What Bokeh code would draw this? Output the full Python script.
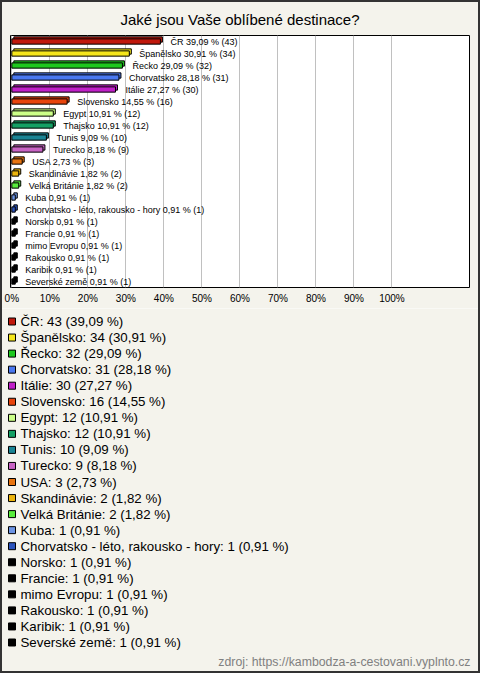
from bokeh.plotting import figure
from bokeh.layouts import column
from bokeh.models import Range1d, FixedTicker, ColumnDataSource, PrintfTickFormatter, InlineStyleSheet
from bokeh.core.properties import value
from bokeh.embed import file_html
from bokeh.resources import INLINE

# ---- data ----
categories = ["ČR", "Španělsko", "Řecko", "Chorvatsko", "Itálie", "Slovensko",
              "Egypt", "Thajsko", "Tunis", "Turecko", "USA", "Skandinávie",
              "Velká Británie", "Kuba", "Chorvatsko - léto, rakousko - hory",
              "Norsko", "Francie", "mimo Evropu", "Rakousko", "Karibik",
              "Severské země"]
counts = [43, 34, 32, 31, 30, 16, 12, 12, 10, 9, 3, 2, 2, 1, 1, 1, 1, 1, 1, 1, 1]
percents = [39.09, 30.91, 29.09, 28.18, 27.27, 14.55, 10.91, 10.91, 9.09, 8.18,
            2.73, 1.82, 1.82, 0.91, 0.91, 0.91, 0.91, 0.91, 0.91, 0.91, 0.91]
colors = ["#c0180c", "#f5e61b", "#1ec81e", "#4a78f0", "#c020c8", "#e8440c",
          "#ccff88", "#14a064", "#1a8494", "#c864c4", "#e87410", "#ecb40c",
          "#58ec3c", "#6c94e4", "#2c54bc", "#000000", "#000000", "#000000",
          "#000000", "#000000", "#000000"]
tick_values = [0, 10, 20, 30, 40, 50, 60, 70, 80, 90, 100]

title_text = "Jaké jsou Vaše oblíbené destinace?"
source_text = "zdroj: https://kambodza-a-cestovani.vyplnto.cz"

BG = "#f4f3ec"
FONT = "Liberation Sans"
W, H1, H2 = 480, 308, 365
LEFT, RIGHT = 10, 11

def fmt(v):
    return f"{v:.2f}".replace(".", ",")

n = len(categories)
rows = list(range(n))
# 3D offsets: ~2px right, ~2px up (x: 3.8 px per %, y: 12 px per row)
dx = 2 / 3.8
dy = 2 / 12
half = 0.22

src = ColumnDataSource(dict(
    y=rows,
    pct=percents,
    color=colors,
    front_top=[r - half for r in rows],
    front_bot=[r + half for r in rows],
    back_top=[r - half - dy for r in rows],
    back_bot=[r + half - dy for r in rows],
    back_left=[dx] * n,
    back_right=[v + dx for v in percents],
    zero=[0] * n,
    label=[f"{c} {fmt(v)} % ({k})" for c, v, k in zip(categories, percents, counts)],
    legend=[f"{c}: {k} ({fmt(v)} %)" for c, v, k in zip(categories, percents, counts)],
))

p = figure(width=W, height=H1, output_backend="svg", toolbar_location=None,
           x_range=Range1d(-0.35, 120.4), y_range=Range1d(n - 0.5, -0.5),
           y_axis_location=None,
           min_border_left=LEFT, min_border_right=RIGHT, min_border_top=35, min_border_bottom=21,
           background_fill_color="white", border_fill_color=BG,
           outline_line_color="black", outline_line_width=1)
p.title.text = title_text
p.title.align = "center"
p.title.text_font = FONT
p.title.text_font_size = "15px"
p.title.text_font_style = "normal"
p.title.text_color = "#000000"
p.title.standoff = 16

p.xaxis.ticker = FixedTicker(ticks=tick_values)
p.xaxis.formatter = PrintfTickFormatter(format="%d%%")
p.xaxis.axis_line_color = None
p.xaxis.major_tick_line_color = None
p.xaxis.minor_tick_line_color = None
p.xaxis.major_tick_out = 0
p.xaxis.major_tick_in = 0
p.xaxis.major_label_standoff = 5
p.xaxis.major_label_text_font = FONT
p.xaxis.major_label_text_font_size = "10px"
p.xaxis.major_label_text_color = "#000000"
p.xgrid.grid_line_color = "#c0c0c0"
p.ygrid.visible = False

p.quad(left="back_left", right="back_right", top="back_top", bottom="back_bot",
       source=src, fill_color="color", line_color="black", line_width=1)
p.quad(left="zero", right="pct", top="front_top", bottom="front_bot",
       source=src, fill_color="color", line_color="black", line_width=1)
p.text(x="pct", y="y", text="label", source=src, x_offset=10,
       text_baseline="middle", text_font=value(FONT), text_font_size="9px",
       text_color="#000000")

# ---- legend panel (x in page pixels) ----
row0 = 13.0
pitch = 16.05
q = figure(width=W, height=H2, output_backend="svg", toolbar_location=None,
           x_range=Range1d(0, W),
           y_range=Range1d((H2 - row0) / pitch, -row0 / pitch),
           x_axis_location=None, y_axis_location=None,
           min_border_left=0, min_border_right=0, min_border_top=0, min_border_bottom=0,
           background_fill_color=BG, border_fill_color=BG, outline_line_color=None)
q.grid.visible = False
q.scatter(x=11.5, y="y", source=src, marker="square", size=7,
          fill_color="color", line_color="black", line_width=1)
q.text(x=20, y="y", text="legend", source=src, text_baseline="middle",
       text_font=value(FONT), text_font_size="13.3px", text_color="#000000")
q.text(x=[470], y=[(353 - row0) / pitch], text=[source_text], text_align="right",
       text_baseline="middle", text_font=value(FONT), text_font_size="12.3px",
       text_color="#808080")

frame_css = InlineStyleSheet(css="""
:host { position: relative; }
:host::after {
  content: "";
  position: absolute;
  left: 0; top: 0; right: 0; bottom: 0;
  border: 2px solid #333333;
  box-sizing: border-box;
  pointer-events: none;
  z-index: 1000;
}
""")

layout = column(column(p), column(q), spacing=0, stylesheets=[frame_css])
open("out.html", "w").write(file_html(layout, INLINE))
